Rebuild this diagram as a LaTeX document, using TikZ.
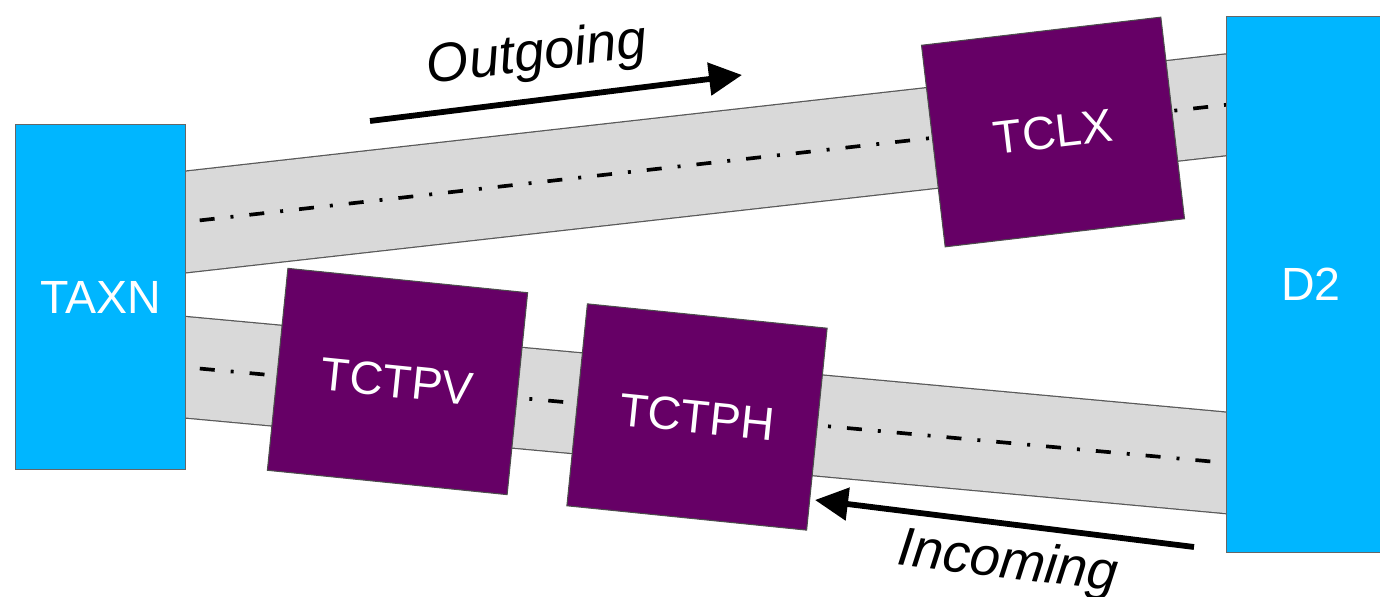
\documentclass[tikz,border=0pt]{standalone}
\usepackage{fontspec}
\setmainfont{Liberation Sans}
\usetikzlibrary{arrows.meta}
\definecolor{sitecyan}{RGB}{0,182,255}
\definecolor{tcpurple}{RGB}{102,0,102}
\definecolor{bandgray}{RGB}{217,217,217}

\begin{document}
\begin{tikzpicture}
  [x=0.02cm,y=-0.02cm,
   every node/.style={font=\fontsize{26.5}{30}\selectfont},
   site/.style={rectangle,fill=sitecyan,draw=black!60,line width=0.6pt,text=white,minimum width=3.39cm},
   tc/.style={rectangle,fill=tcpurple,draw=black!70,line width=0.6pt,text=white,minimum width=4.82cm,minimum height=4.06cm},
   band/.style={draw=black!65,line width=2.05cm,postaction={draw=bandgray,line width=2.0cm}},
   axis/.style={line width=2.1pt,dash pattern=on 0.3cm off 0.32cm on 0.06cm off 0.32cm},
   flow/.style={line width=3.3pt,-{Triangle[length=0.66cm,width=0.64cm]}},
   flowtext/.style={font=\fontsize{31}{36}\selectfont\itshape}]
  \useasboundingbox (0,0) rectangle (1380,597);

  % ends of the two links, hidden under the sites
  \coordinate (oa) at (150,226);
  \coordinate (ob) at (1260,101);
  \coordinate (ia) at (150,364);
  \coordinate (ib) at (1260,466);

  \foreach \from/\to in {oa/ob,ia/ib}{
    \draw[band] (\from) -- (\to);
    \draw[axis] (\from) -- (\to);
  }

  \node[site,minimum height=6.92cm] (taxn) at (100.5,297) {TAXN};
  \node[site,minimum height=10.74cm] (d2) at (1311,284.5) {D2};

  \node[tc,rotate=6.7] (tclx) at (1053,132) {TCLX};
  \node[tc,rotate=-5.8] (tctpv) at (397.5,381.5) {TCTPV};
  \node[tc,rotate=-5.8] (tctph) at (697,417) {TCTPH};

  % direction of traffic
  \coordinate (ot) at (370,121);
  \coordinate (oh) at (742,75);
  \coordinate (it) at (1194,547);
  \coordinate (ih) at (815,500);
  \draw[flow] (ot) -- (oh);
  \draw[flow] (it) -- (ih);
  \node[flowtext,rotate=6.9] (outlabel) at (537,56) {Outgoing};
  \node[flowtext,rotate=-6.8] (inlabel) at (1008,564) {Incoming};

\end{tikzpicture}
\end{document}
